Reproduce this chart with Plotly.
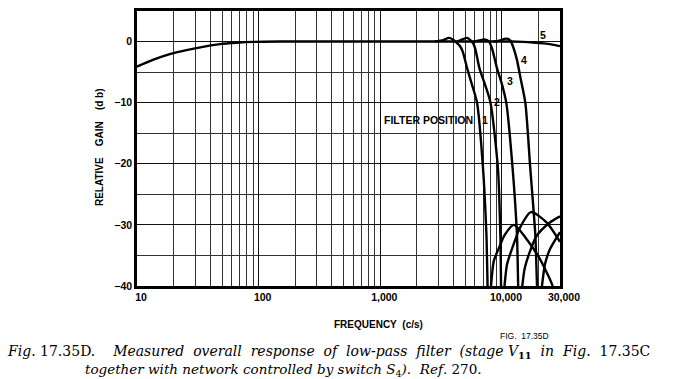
import math
import plotly.graph_objects as go

# ---------------- data ----------------
base_freq = [10, 13.5, 18.6, 25.5, 34.9, 47.9, 65.6, 90, 150, 300, 1000, 3000]
base_db = [-4.1, -3.0, -2.05, -1.4, -0.86, -0.43, -0.2, -0.06, 0, 0, 0, 0]

pos1_freq = [2800, 3300, 3650, 3950, 4250, 4500, 4750, 5170, 5700, 6240, 6990, 7450, 7780,
             8550, 9620, 10570, 12530, 15920, 19720, 22960, 26060, 27500]
pos1_db = [0, 0.25, 0.6, 0.35, -0.2, -0.7, -1.6, -4.35, -7.2, -10, -20.8, -31.5, -44,
           -36, -33.4, -31.6, -30, -32.3, -35, -37.5, -40, -44]

pos2_freq = [4300, 4800, 5150, 5500, 5800, 6020, 6530, 7300, 8050, 9270, 9700, 10000,
             11000, 12360, 14030, 17300, 23270, 28970, 30000]
pos2_db = [0, 0.4, 0.6, 0.25, -0.3, -1.1, -4.35, -7.2, -10, -20.8, -31.5, -44,
           -36.5, -33.4, -30.5, -27.9, -29.6, -32.3, -32.8]

pos3_freq = [5800, 6500, 7200, 7800, 8280, 9100, 10000, 10850, 12240, 13280, 13900,
             15420, 19280, 24790, 30000]
pos3_db = [0, 0.2, 0.35, 0.05, -1.1, -4.35, -7, -10, -20.8, -31.5, -44,
           -37, -31.8, -29.6, -28.6]

pos4_freq = [8500, 9500, 10500, 11200, 11800, 12480, 13280, 14220, 15560, 17100, 18790, 20000,
             22530, 24790, 30000]
pos4_db = [0, 0.15, 0.45, 0.45, 0.1, -1.1, -3, -6, -10, -20.8, -31.5, -44,
           -36.5, -34, -31.2]

pos5_freq = [3000, 8000, 12000, 15000, 18000, 22000, 26000, 30000]
pos5_db = [0, 0, 0, -0.05, -0.15, -0.3, -0.5, -0.75]

curve_labels = ["FILTER POSITION", "1", "2", "3", "4", "5"]
label_freq = [6050, 7250, 9100, 11700, 15300, 21800]
label_db = [-12.9, -12.9, -9.84, -6.45, -3.06, 1.02]
label_anchor = ["right", "center", "center", "center", "center", "center"]

x_tick_vals = [10, 100, 1000, 10000, 30000]
x_tick_text = ["10", "100", "1,000", "10,000", "30,000"]
y_tick_vals = [0, -10, -20, -30, -40]

# ---------------- figure ----------------
fig = go.Figure()
line_style = dict(color="black", width=2.4, shape="spline", smoothing=0.7)
for fx, fy in [(base_freq, base_db), (pos5_freq, pos5_db), (pos1_freq, pos1_db),
               (pos2_freq, pos2_db), (pos3_freq, pos3_db), (pos4_freq, pos4_db)]:
    fig.add_trace(go.Scatter(x=fx, y=fy, mode="lines", line=line_style,
                             showlegend=False, hoverinfo="skip", cliponaxis=True))

lab_font = dict(family="Liberation Sans", size=10.5, color="black", weight="bold")
for t, fx, fy, a in zip(curve_labels, label_freq, label_db, label_anchor):
    fig.add_annotation(x=math.log10(fx), y=fy, text=t, showarrow=False,
                       xanchor=a, yanchor="middle", font=lab_font)

tick_font = dict(family="Liberation Sans", size=10.5, color="black", weight="bold")
fig.update_xaxes(
    type="log", range=[1, math.log10(30000)],
    tickvals=x_tick_vals, ticktext=x_tick_text, ticks="", ticklen=0, tickfont=tick_font,
    ticklabelshift=4,
    showgrid=True, gridcolor="#111", gridwidth=1,
    minor=dict(dtick="D1", showgrid=True, gridcolor="#333", gridwidth=0.8, ticks=""),
    showline=True, mirror=True, linecolor="black", linewidth=2.5, zeroline=False,
)
fig.update_yaxes(
    range=[-40, 5], tickvals=y_tick_vals, ticks="", ticklen=0, tickfont=tick_font,
    showgrid=True, gridcolor="#111", gridwidth=1,
    minor=dict(dtick=5, showgrid=True, gridcolor="#333", gridwidth=0.8, ticks=""),
    showline=True, mirror=True, linecolor="black", linewidth=2.5, zeroline=False,
)

title_font = dict(family="Liberation Sans", size=10, color="black", weight="bold")
fig.add_annotation(xref="paper", yref="paper", x=-0.090, y=0.505, textangle=-90,
                   xanchor="center", yanchor="middle",
                   text="RELATIVE&nbsp;&nbsp;&nbsp;&nbsp;GAIN&nbsp;&nbsp;&nbsp;&nbsp;(d b)",
                   showarrow=False, font=title_font)
fig.add_annotation(xref="paper", yref="paper", x=0.57, y=-0.14, xanchor="center",
                   yanchor="middle",
                   text="FREQUENCY&nbsp;&nbsp;(c/s)", showarrow=False, font=title_font)
fig.add_annotation(xref="paper", yref="paper", x=0.917, y=-0.18, xanchor="center",
                   yanchor="middle",
                   text="FIG.&nbsp; 17.35D", showarrow=False,
                   font=dict(family="Liberation Sans", size=8.5, color="black"))

sp = "&nbsp; "
cap_font = dict(family="DejaVu Serif", size=14, color="black")
line1 = ("<i>Fig</i>. 17.35D." + sp + sp + "<i>" +
         sp.join(["Measured", "overall", "response", "of", "low-pass", "filter", "(stage"]) +
         " V</i><sub><b>11</b></sub>" + sp + "<i>in" + sp + "Fig</i>." + sp + "17.35C")
line2 = "<i>together with network controlled by switch S</i><sub>4</sub><i>).&nbsp; Ref</i>. 270."
fig.add_annotation(xref="paper", yref="paper", x=-0.312, y=-0.241, xanchor="left",
                   yanchor="middle", text=line1, showarrow=False, font=cap_font)
fig.add_annotation(xref="paper", yref="paper", x=-0.128, y=-0.306, xanchor="left",
                   yanchor="middle", text=line2, showarrow=False,
                   font=dict(family="DejaVu Serif", size=13.5, color="black"))

fig.update_layout(
    width=686, height=379,
    margin=dict(l=137, r=126, t=8, b=93),
    paper_bgcolor="white", plot_bgcolor="white",
)

fig.write_html("out.html", post_script="document.body.style.margin='0';",
               config={"displayModeBar": False})
